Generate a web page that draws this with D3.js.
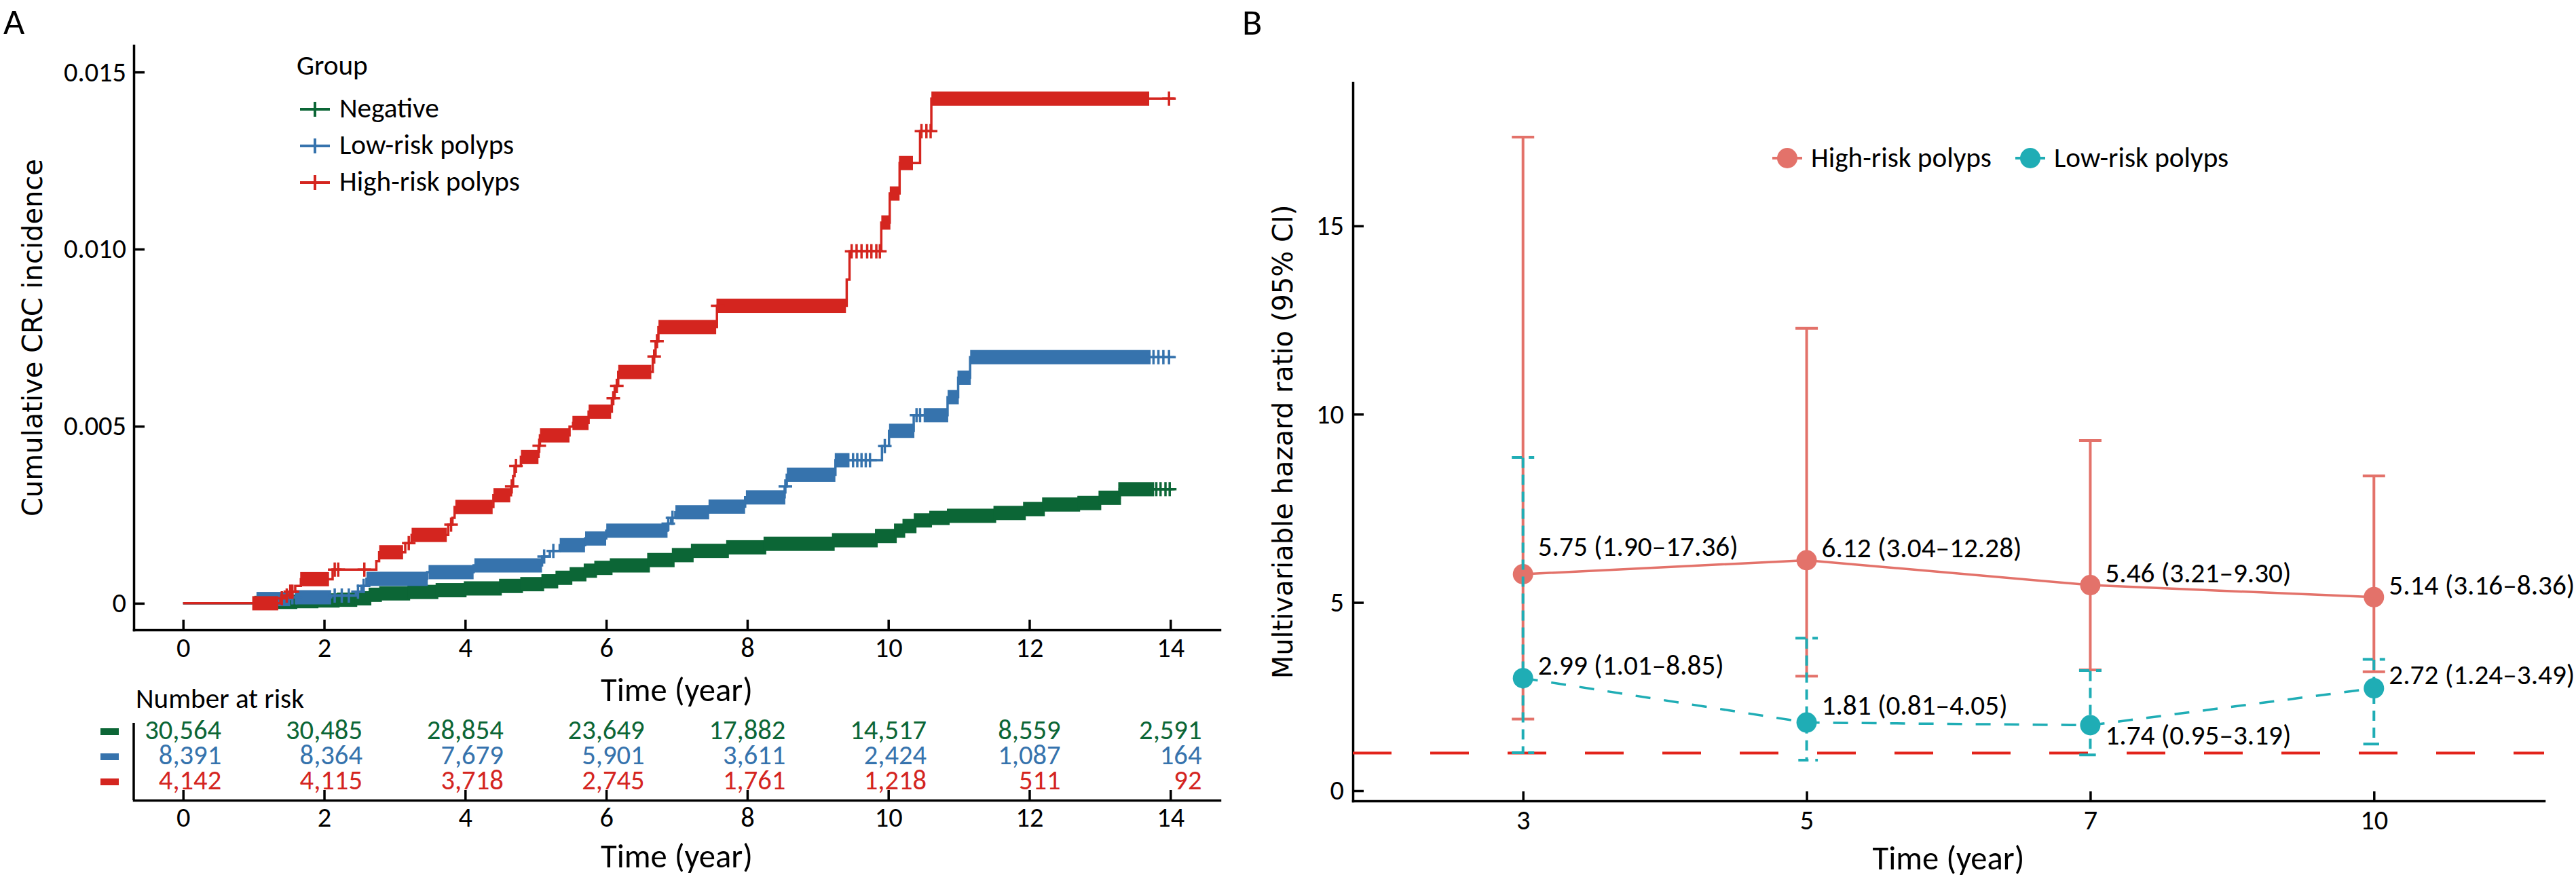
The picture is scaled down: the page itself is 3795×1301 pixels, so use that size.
<!DOCTYPE html>
<html>
<head>
<meta charset="utf-8">
<script src="https://cdn.jsdelivr.net/npm/d3@7"></script>
<style>
  body { margin: 0; background: #fff; }
  svg { display: block; }
</style>
</head>
<body>
<svg id="fig" width="3795" height="1301"></svg>
<script>
// ---- panel A: cumulative incidence ----
const groups = ['Negative', 'Low-risk polyps', 'High-risk polyps'];
const followUpEnd = 14.06;

const negSteps = [
  [0, 0], [1.02, 0.00001], [1.25, 0.00004], [1.6, 0.00006], [1.9, 0.00008],
  [2.2, 0.0001], [2.45, 0.00014], [2.65, 0.00024], [2.8, 0.00028], [3.2, 0.00032],
  [3.6, 0.00037], [4.0, 0.00042], [4.5, 0.00049], [4.8, 0.00054], [5.1, 0.00062],
  [5.3, 0.00072], [5.5, 0.00082], [5.7, 0.00092], [5.85, 0.001], [6.07, 0.00107],
  [6.6, 0.00122], [6.95, 0.00136], [7.22, 0.00148], [7.72, 0.00158], [8.25, 0.00168],
  [9.22, 0.00178], [9.83, 0.0019], [10.1, 0.00205], [10.22, 0.00218], [10.38, 0.00234],
  [10.6, 0.00241], [10.85, 0.00247], [11.51, 0.00255], [11.93, 0.00266], [12.2, 0.00279],
  [12.7, 0.00283], [13.0, 0.00298], [13.28, 0.00322]
];
const negCensorRuns = [[1.03, 13.75]];
const negCensorMarks = [13.8, 13.86, 13.93, 13.99];

const lowSteps = [
  [0, 0], [1.05, 0.00012], [1.52, 0.00017], [2.1, 0.00022], [2.45, 0.00033],
  [2.53, 0.00049], [2.6, 0.00069], [3.46, 0.00088], [4.12, 0.00107], [5.09, 0.00132],
  [5.2, 0.00148], [5.34, 0.00164], [5.7, 0.00183], [6.0, 0.00205], [6.87, 0.00225],
  [6.92, 0.00241], [6.98, 0.00257], [7.45, 0.00273], [7.97, 0.00299], [8.53, 0.0033],
  [8.56, 0.00363], [9.25, 0.00404], [9.91, 0.00444], [10.01, 0.00487], [10.36, 0.00531],
  [10.84, 0.00582], [10.99, 0.00637], [11.16, 0.00695]
];
const lowCensorRuns = [
  [1.06, 1.5], [1.62, 2.08], [2.62, 3.45], [3.5, 4.1], [4.15, 5.07], [5.36, 5.68],
  [5.72, 5.98], [6.02, 6.85], [7.0, 7.44], [7.47, 7.95], [8.0, 8.52], [8.58, 9.23],
  [9.26, 9.43], [10.03, 10.35], [10.52, 10.83], [10.86, 10.98], [11.0, 11.15], [11.18, 13.7]
];
const lowCensorMarks = [
  1.55, 1.6, 2.15, 2.25, 2.35, 2.48, 2.56, 5.12, 5.25, 6.88, 6.94, 8.54, 9.5, 9.56,
  9.62, 9.68, 9.74, 9.95, 10.4, 10.45, 13.76, 13.83, 13.9, 13.98
];

const highSteps = [
  [0, 0], [1.38, 0.00014], [1.44, 0.00022], [1.51, 0.00033], [1.59, 0.00049],
  [1.67, 0.00068], [2.12, 0.00095], [2.74, 0.00119], [2.78, 0.00144], [3.15, 0.0017],
  [3.24, 0.00193], [3.76, 0.00222], [3.82, 0.00241], [3.85, 0.00272], [4.4, 0.00305],
  [4.65, 0.0033], [4.68, 0.00359], [4.7, 0.00388], [4.79, 0.00413], [5.04, 0.00445],
  [5.06, 0.00474], [5.48, 0.00499], [5.53, 0.00509], [5.75, 0.00541], [6.08, 0.00579],
  [6.12, 0.00614], [6.17, 0.00653], [6.66, 0.00697], [6.7, 0.0074], [6.74, 0.0078],
  [7.57, 0.0084], [9.41, 0.00914], [9.45, 0.00994], [9.9, 0.01075], [10.02, 0.01157],
  [10.16, 0.01243], [10.45, 0.01333], [10.61, 0.01425]
];
const highCensorRuns = [
  [1.0, 1.33], [1.68, 2.05], [2.8, 3.1], [3.26, 3.72], [3.88, 4.37], [4.42, 4.62],
  [4.81, 5.02], [5.08, 5.46], [5.54, 5.73], [5.77, 6.05], [6.19, 6.62], [6.76, 7.54],
  [7.6, 9.38], [9.92, 10.01], [10.04, 10.14], [10.17, 10.33], [10.63, 13.68]
];
const highCensorMarks = [
  1.4, 1.47, 1.52, 1.55, 2.15, 2.2, 2.57, 3.2, 3.8, 4.66, 4.72, 5.05, 6.1, 6.15,
  6.68, 6.72, 7.58, 9.48, 9.55, 9.62, 9.7, 9.76, 9.83, 9.88, 10.47, 10.54, 10.6, 13.98
];

const timeTicks = [0, 2, 4, 6, 8, 10, 12, 14];
const cumTicks = [0, 0.005, 0.01, 0.015];
const cumTickLabels = ['0', '0.005', '0.010', '0.015'];

const riskNeg = [30564, 30485, 28854, 23649, 17882, 14517, 8559, 2591];
const riskLow = [8391, 8364, 7679, 5901, 3611, 2424, 1087, 164];
const riskHigh = [4142, 4115, 3718, 2745, 1761, 1218, 511, 92];

// ---- panel B: hazard ratios ----
const hrYears = ['3', '5', '7', '10'];
const hrSeries = ['High-risk polyps', 'Low-risk polyps'];
const hrHigh = [5.75, 6.12, 5.46, 5.14];
const hrHighLo = [1.9, 3.04, 3.21, 3.16];
const hrHighHi = [17.36, 12.28, 9.3, 8.36];
const hrLow = [2.99, 1.81, 1.74, 2.72];
const hrLowLo = [1.01, 0.81, 0.95, 1.24];
const hrLowHi = [8.85, 4.05, 3.19, 3.49];
const hrTicks = [0, 5, 10, 15];
const hrRef = 1;

// ---- drawing ----
const kmColors = ['#0c6636', '#3673ad', '#d4251f'];
const hrColors = ['#e3726a', '#1fadb5'];
const sans = 'Carlito, Calibri, Lato, sans-serif';
const wide = '"DejaVu Sans", Verdana, sans-serif';

const svg = d3.select('#fig');

// the original uses a Calibri-like face; size the substitute so widths match
const probe = svg.append('text').attr('font-family', sans).attr('font-size', 100);
function sizeFor(str, targetWidth) {
  probe.text(str);
  return 100 * targetWidth / probe.node().getComputedTextLength();
}
const fsTick = sizeFor('0.015', 92);
const fsLegend = sizeFor('High-risk polyps', 266);
const fsRisk = sizeFor('30,564', 113);
const fsRiskTitle = sizeFor('Number at risk', 248);
const fsTitle = sizeFor('Time (year)', 224);
const fsLabel = sizeFor('5.75 (1.90\u201317.36)', 295);
probe.remove();

function styleAxis(g, size) {
  g.attr('font-family', sans).attr('font-size', size);
  g.select('.domain').attr('stroke-width', 3.5).attr('stroke-linecap', 'square');
  g.selectAll('.tick line').attr('stroke-width', 3.5);
  g.selectAll('.tick text').attr('fill', '#000');
}

// panel A ---------------------------------------------------------
const xA = d3.scaleLinear().domain([-0.7, 14.7]).range([197, 1797]);
const yA = d3.scaleLinear().domain([-0.00075, 0.01575]).range([928, 67]);

svg.append('text').attr('x', 5).attr('y', 50)
  .attr('font-family', sans).attr('font-size', 54).text('A');

const gyA = svg.append('g').attr('transform', `translate(${xA.range()[0]},0)`)
  .call(d3.axisLeft(yA).tickValues(cumTicks)
    .tickFormat((d, i) => cumTickLabels[i])
    .tickSize(-16).tickSizeOuter(0).tickPadding(11));
styleAxis(gyA, fsTick);

const gxA = svg.append('g').attr('transform', `translate(0,${yA.range()[0]})`)
  .call(d3.axisBottom(xA).tickValues(timeTicks).tickSize(-15).tickSizeOuter(0));
styleAxis(gxA, fsTick);
gxA.selectAll('.tick text').attr('y', 40).attr('dy', null);

svg.append('text')
  .attr('transform', `translate(62,${(yA.range()[0] + yA.range()[1]) / 2}) rotate(-90)`)
  .attr('text-anchor', 'middle').attr('font-family', wide).attr('font-size', 40)
  .text('Cumulative CRC incidence');

svg.append('text').attr('x', (xA.range()[0] + xA.range()[1]) / 2).attr('y', 1033)
  .attr('text-anchor', 'middle').attr('font-family', sans).attr('font-size', fsTitle)
  .text('Time (year)');

function valueAt(steps, t) {
  const i = d3.bisector((d) => d[0]).right(steps, t) - 1;
  return steps[Math.max(i, 0)][1];
}

const stepLine = d3.line()
  .x((d) => xA(d[0]))
  .y((d) => yA(d[1]))
  .curve(d3.curveStepAfter);

const kmGroups = [
  { steps: negSteps, runs: negCensorRuns, marks: negCensorMarks },
  { steps: lowSteps, runs: lowCensorRuns, marks: lowCensorMarks },
  { steps: highSteps, runs: highCensorRuns, marks: highCensorMarks },
];

const markH = 10.5;
kmGroups.forEach((grp, gi) => {
  const color = kmColors[gi];
  const pts = grp.steps.concat([[followUpEnd, grp.steps[grp.steps.length - 1][1]]]);
  const g = svg.append('g');

  g.append('path').attr('d', stepLine(pts))
    .attr('fill', 'none').attr('stroke', color).attr('stroke-width', 3.5);

  // dense censoring shows as solid blocks along each flat segment
  const segs = [];
  grp.runs.forEach(([t0, t1]) => {
    for (let i = 0; i < pts.length - 1; i++) {
      const lo = Math.max(t0, pts[i][0]);
      const hi = Math.min(t1, pts[i + 1][0]);
      if (hi > lo) segs.push({ lo, hi, v: pts[i][1] });
    }
  });
  g.selectAll('rect.run').data(segs).enter().append('rect')
    .attr('class', 'run')
    .attr('x', (d) => xA(d.lo) - 2)
    .attr('width', (d) => xA(d.hi) - xA(d.lo) + 4)
    .attr('y', (d) => yA(d.v) - markH)
    .attr('height', markH * 2)
    .attr('fill', color);

  g.selectAll('path.mark').data(grp.marks).enter().append('path')
    .attr('class', 'mark')
    .attr('d', (t) => {
      const x = xA(t), y = yA(valueAt(grp.steps, t));
      return `M${x - 10},${y}H${x + 10}M${x},${y - markH}V${y + markH}`;
    })
    .attr('stroke', color).attr('stroke-width', 3.5).attr('fill', 'none');
});

// legend
const legA = svg.append('g').attr('font-family', sans).attr('font-size', fsLegend);
legA.append('text').attr('x', 437).attr('y', 110).text('Group');
groups.forEach((name, i) => {
  const cy = 161 + i * 54;
  legA.append('path')
    .attr('d', `M442,${cy}H486M464,${cy - 11}V${cy + 11}`)
    .attr('stroke', kmColors[i]).attr('stroke-width', 4);
  legA.append('text').attr('x', 500).attr('y', cy + 12).text(name);
});

// number at risk table
const riskRows = [riskNeg, riskLow, riskHigh];
const yRisk = d3.scalePoint().domain(groups).range([1078, 1152]);
const fmt = d3.format(',');

svg.append('text').attr('x', 200).attr('y', 1043)
  .attr('font-family', sans).attr('font-size', fsRiskTitle).text('Number at risk');

svg.append('line')
  .attr('x1', xA.range()[0]).attr('x2', xA.range()[0])
  .attr('y1', 1065).attr('y2', 1179)
  .attr('stroke', '#000').attr('stroke-width', 3.5);

const gxR = svg.append('g').attr('transform', 'translate(0,1179)')
  .call(d3.axisBottom(xA).tickValues(timeTicks).tickSize(-15).tickSizeOuter(0));
styleAxis(gxR, fsTick);
gxR.selectAll('.tick text').attr('y', 39).attr('dy', null);

svg.append('text').attr('x', (xA.range()[0] + xA.range()[1]) / 2).attr('y', 1278)
  .attr('text-anchor', 'middle').attr('font-family', sans).attr('font-size', fsTitle)
  .text('Time (year)');

const riskG = svg.append('g').attr('font-family', sans).attr('font-size', fsRisk);
const widest = riskG.append('text');
const rightEdge = timeTicks.map((t, i) => {
  widest.text(fmt(riskNeg[i]));
  return xA(t) + widest.node().getComputedTextLength() / 2;
});
widest.remove();

groups.forEach((name, gi) => {
  const cy = yRisk(name);
  riskG.append('rect').attr('x', 148).attr('y', cy - 5)
    .attr('width', 27).attr('height', 10).attr('fill', kmColors[gi]);
  riskG.selectAll(null).data(riskRows[gi]).enter().append('text')
    .attr('x', (d, i) => rightEdge[i])
    .attr('y', cy + 11)
    .attr('text-anchor', 'end')
    .attr('fill', kmColors[gi])
    .text((d) => fmt(d));
});

// panel B ---------------------------------------------------------
const xB = d3.scalePoint().domain(hrYears).range([1993, 3748]).padding(0.6);
const yB = d3.scaleLinear().domain([-0.27, 18.8]).range([1180, 122]);

svg.append('text').attr('x', 1830).attr('y', 51)
  .attr('font-family', sans).attr('font-size', 54).text('B');

const gyB = svg.append('g').attr('transform', `translate(${xB.range()[0]},0)`)
  .call(d3.axisLeft(yB).tickValues(hrTicks).tickSize(-16).tickSizeOuter(0).tickPadding(13));
styleAxis(gyB, fsTick);

const gxB = svg.append('g').attr('transform', `translate(0,${yB.range()[0]})`)
  .call(d3.axisBottom(xB).tickSize(-14).tickSizeOuter(0));
styleAxis(gxB, fsTick);
gxB.selectAll('.tick text').attr('y', 42).attr('dy', null);

svg.append('text')
  .attr('transform', `translate(1904,${(yB.range()[0] + yB.range()[1]) / 2}) rotate(-90)`)
  .attr('text-anchor', 'middle').attr('font-family', wide).attr('font-size', 40)
  .text('Multivariable hazard ratio (95% CI)');

svg.append('text').attr('x', (xB.range()[0] + xB.range()[1]) / 2).attr('y', 1281)
  .attr('text-anchor', 'middle').attr('font-family', sans).attr('font-size', fsTitle)
  .text('Time (year)');

svg.append('line')
  .attr('x1', xB.range()[0]).attr('x2', xB.range()[1])
  .attr('y1', yB(hrRef)).attr('y2', yB(hrRef))
  .attr('stroke', '#e2231a').attr('stroke-width', 4).attr('stroke-dasharray', '57,57');

const hrData = [
  { est: hrHigh, lo: hrHighLo, hi: hrHighHi, dash: null, barDash: null, labelDy: [-27, -4, -4, -4] },
  { est: hrLow, lo: hrLowLo, hi: hrLowHi, dash: '22,20', barDash: '15,10', labelDy: [-5, -12, 29, -6] },
];
const capW = 16.5;

const hrLine = d3.line().x((d, i) => xB(hrYears[i])).y((d) => yB(d));

hrData.forEach((s, si) => {
  const color = hrColors[si];
  const g = svg.append('g');
  g.append('path').attr('d', hrLine(s.est))
    .attr('fill', 'none').attr('stroke', color).attr('stroke-width', 3.5)
    .attr('stroke-dasharray', s.dash);

  g.selectAll('path.bar').data(s.est).enter().append('path')
    .attr('class', 'bar')
    .attr('d', (d, i) => {
      const x = xB(hrYears[i]), y1 = yB(s.hi[i]), y0 = yB(s.lo[i]);
      return `M${x - capW},${y1}H${x + capW}H${x}V${y0}H${x - capW}H${x + capW}`;
    })
    .attr('fill', 'none').attr('stroke', color).attr('stroke-width', 4)
    .attr('stroke-dasharray', s.barDash);

  g.selectAll('circle').data(s.est).enter().append('circle')
    .attr('cx', (d, i) => xB(hrYears[i])).attr('cy', (d) => yB(d))
    .attr('r', 15).attr('fill', color);

  g.selectAll('text').data(s.est).enter().append('text')
    .attr('x', (d, i) => xB(hrYears[i]) + 22)
    .attr('y', (d, i) => yB(d) + s.labelDy[i])
    .attr('font-family', sans).attr('font-size', fsLabel)
    .text((d, i) => `${d.toFixed(2)} (${s.lo[i].toFixed(2)}\u2013${s.hi[i].toFixed(2)})`);
});

// legend
const legB = svg.append('g').attr('font-family', sans).attr('font-size', fsLegend);
hrSeries.forEach((name, i) => {
  const cx = [2633, 2991][i];
  legB.append('line').attr('x1', cx - 22).attr('x2', cx + 22).attr('y1', 233).attr('y2', 233)
    .attr('stroke', hrColors[i]).attr('stroke-width', 4);
  legB.append('circle').attr('cx', cx).attr('cy', 233).attr('r', 15).attr('fill', hrColors[i]);
  legB.append('text').attr('x', cx + 35).attr('y', 246).text(name);
});
</script>
</body>
</html>
